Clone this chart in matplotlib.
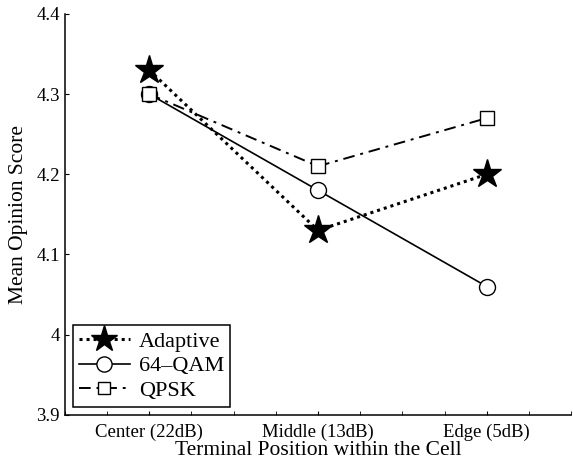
import matplotlib

matplotlib.use("Agg")
import matplotlib.pyplot as plt
import numpy as np

plt.rcParams.update(
    {
        "font.family": ["Liberation Serif", "DejaVu Serif"],
        "xtick.direction": "in",
        "ytick.direction": "in",
        "axes.linewidth": 1.1,
    }
)

positions = ["Center (22dB)", "Middle (13dB)", "Edge (5dB)"]
adaptive = [4.33, 4.13, 4.20]
qam64 = [4.30, 4.18, 4.06]
qpsk = [4.30, 4.21, 4.27]

x = np.arange(1, len(positions) + 1)

fig = plt.figure(figsize=(5.73, 4.61), dpi=100)
ax = fig.add_axes([0.113, 0.10, 0.884, 0.87])

ax.plot(x, adaptive, color="black", linestyle=(0, (1, 1.3)), linewidth=2.2,
        marker="*", markersize=21, markerfacecolor="black", label="Adaptive")
ax.plot(x, qam64, color="black", linestyle="-", linewidth=1.2,
        marker="o", markersize=11.5, markerfacecolor="white", label="64\u2013QAM")
ax.plot(x, qpsk, color="black", linestyle=(0, (6, 3, 1.5, 3)), linewidth=1.4,
        marker="s", markersize=9.5, markerfacecolor="white", label="QPSK")

ax.set_xlim(0.5, 3.5)
ax.set_ylim(3.9, 4.4)
ax.set_xticks(np.arange(0.5, 3.51, 0.25), minor=True)
ax.set_xticks(x)
ax.set_xticklabels(positions, fontsize=13.5)
ax.set_yticks([3.9, 4.0, 4.1, 4.2, 4.3, 4.4])
ax.set_yticklabels(["3.9", "4", "4.1", "4.2", "4.3", "4.4"], fontsize=13.5)
ax.tick_params(which="both", length=3, top=False, right=False)
ax.tick_params(axis="x", pad=6)
ax.spines["top"].set_visible(False)
ax.spines["right"].set_visible(False)

ax.set_xlabel("Terminal Position within the Cell", fontsize=15.5, labelpad=0)
ax.set_ylabel("Mean Opinion Score", fontsize=15.5, labelpad=6)

leg = ax.legend(loc="lower left", fontsize=16, fancybox=False, framealpha=1,
                edgecolor="black", handlelength=2.3, borderaxespad=0.35,
                labelspacing=0.18, handletextpad=0.4, borderpad=0.28,
                markerscale=0.95)
leg.get_frame().set_linewidth(1.1)

fig.savefig("out.png", dpi=100)
